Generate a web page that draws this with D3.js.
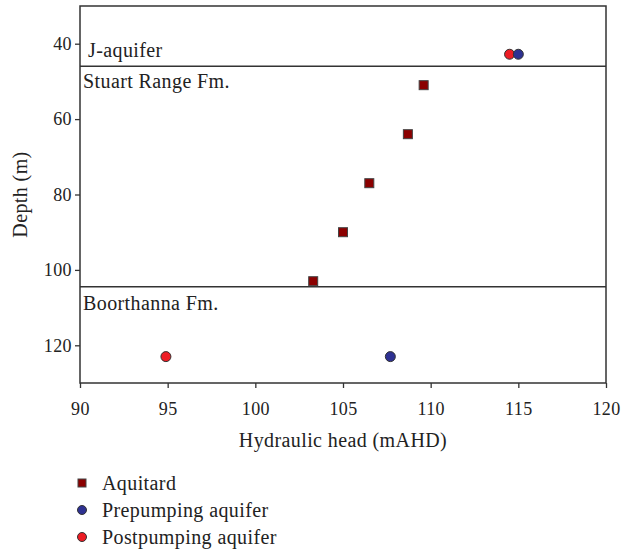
<!DOCTYPE html>
<html>
<head>
<meta charset="utf-8">
<script src="https://cdn.jsdelivr.net/npm/d3@7"></script>
<style>
  body { margin: 0; background: #fff; }
  svg text { font-family: "Liberation Serif", "DejaVu Serif", serif; fill: #222; letter-spacing: 0.4px; }
</style>
</head>
<body>
<div id="chart"></div>
<script>
/* DATA */
const xTicks = [90, 95, 100, 105, 110, 115, 120];
const yTicks = [40, 60, 80, 100, 120];

// aquitard samples: hydraulic head (mAHD) and depth (m)
const aquitardHead = [109.6, 108.7, 106.5, 105.0, 103.3];
const aquitardDepth = [51, 64, 77, 90, 103];

// aquifers: J-aquifer and Boorthanna Fm.
const prepumpHead = [115.0, 107.7];
const prepumpDepth = [42.8, 123];
const postpumpHead = [114.5, 94.9];
const postpumpDepth = [42.8, 123];

// unit boundaries (depth) and labels
const boundaries = [46, 104.5];
const unitNames = ["J-aquifer", "Stuart Range Fm.", "Boorthanna Fm."];
const unitLabelDepth = [43.5, 51.7, 110.6];

const legendNames = ["Aquitard", "Prepumping aquifer", "Postpumping aquifer"];

/* CONSTANTS */
const width = 621, height = 550;
const margin = { top: 6, right: 15, bottom: 167, left: 80 };
const colors = { aquitard: "#8b0000", pre: "#2e3192", post: "#ed1c24" };
const tickFs = 18;
const labelFs = 20;

const svg = d3.select("#chart").append("svg")
  .attr("width", width)
  .attr("height", height);

const xScale = d3.scaleLinear()
  .domain([90, 120])
  .range([margin.left, width - margin.right]);

const yScale = d3.scaleLinear()
  .domain([30, 130])
  .range([margin.top, height - margin.bottom]);

// axes
const xAxis = d3.axisBottom(xScale).tickValues(xTicks).tickSize(5).tickSizeOuter(0);
const yAxis = d3.axisLeft(yScale).tickValues(yTicks).tickSize(5).tickSizeOuter(0);

const gx = svg.append("g")
  .attr("transform", `translate(0,${height - margin.bottom})`)
  .call(xAxis);
const gy = svg.append("g")
  .attr("transform", `translate(${margin.left},0)`)
  .call(yAxis);

[gx, gy].forEach(g => {
  g.select(".domain").remove();
  g.selectAll("line").attr("stroke", "#333").attr("stroke-width", 1.3);
  g.selectAll("text").attr("font-size", tickFs).attr("font-family", null).attr("fill", "#222");
});
gx.selectAll("text").attr("dy", "1.33em");

// frame
svg.append("rect")
  .attr("x", xScale(90))
  .attr("y", yScale(30))
  .attr("width", xScale(120) - xScale(90))
  .attr("height", yScale(130) - yScale(30))
  .attr("fill", "none")
  .attr("stroke", "#333")
  .attr("stroke-width", 1.5);

// boundaries
svg.selectAll("line.bound")
  .data(boundaries)
  .join("line")
  .attr("class", "bound")
  .attr("x1", xScale(90))
  .attr("x2", xScale(120))
  .attr("y1", d => yScale(d))
  .attr("y2", d => yScale(d))
  .attr("stroke", "#333")
  .attr("stroke-width", 1.5);

svg.selectAll("text.unit")
  .data(unitNames)
  .join("text")
  .attr("class", "unit")
  .attr("x", (d, i) => xScale(90) + (i === 0 ? 8 : 3))
  .attr("y", (d, i) => yScale(unitLabelDepth[i]))
  .attr("font-size", labelFs)
  .text(d => d);

// aquitard squares
const sq = 9;
svg.selectAll("rect.aquitard")
  .data(aquitardHead.map((h, i) => ({ h, d: aquitardDepth[i] })))
  .join("rect")
  .attr("class", "aquitard")
  .attr("x", d => xScale(d.h) - sq / 2)
  .attr("y", d => yScale(d.d) - sq / 2)
  .attr("width", sq)
  .attr("height", sq)
  .attr("fill", colors.aquitard)
  .attr("stroke", "#444")
  .attr("stroke-width", 1);

// postpumping then prepumping (pre drawn on top)
svg.selectAll("circle.post")
  .data(postpumpHead.map((h, i) => ({ h, d: postpumpDepth[i] })))
  .join("circle")
  .attr("class", "post")
  .attr("cx", d => xScale(d.h))
  .attr("cy", d => yScale(d.d))
  .attr("r", 5)
  .attr("fill", colors.post)
  .attr("stroke", "#333")
  .attr("stroke-width", 1);

svg.selectAll("circle.pre")
  .data(prepumpHead.map((h, i) => ({ h, d: prepumpDepth[i] })))
  .join("circle")
  .attr("class", "pre")
  .attr("cx", d => xScale(d.h))
  .attr("cy", d => yScale(d.d))
  .attr("r", 5)
  .attr("fill", colors.pre)
  .attr("stroke", "#333")
  .attr("stroke-width", 1);

// axis labels
svg.append("text")
  .attr("x", (xScale(90) + xScale(120)) / 2)
  .attr("y", 447)
  .attr("text-anchor", "middle")
  .attr("font-size", labelFs)
  .text("Hydraulic head (mAHD)");

svg.append("text")
  .attr("transform", `translate(27,${(yScale(30) + yScale(130)) / 2}) rotate(-90)`)
  .attr("text-anchor", "middle")
  .attr("font-size", labelFs)
  .text("Depth (m)");

// legend
const legend = svg.append("g").attr("transform", "translate(82,483)");
const items = legend.selectAll("g")
  .data(legendNames)
  .join("g")
  .attr("transform", (d, i) => `translate(0,${i * 27})`);

items.each(function (d, i) {
  const g = d3.select(this);
  if (i === 0) {
    g.append("rect").attr("x", -4).attr("y", -4).attr("width", 8).attr("height", 8)
      .attr("fill", colors.aquitard).attr("stroke", "#444");
  } else {
    g.append("circle").attr("r", 4.5)
      .attr("fill", i === 1 ? colors.pre : colors.post).attr("stroke", "#333");
  }
  g.append("text")
    .attr("x", 20)
    .attr("dy", "0.35em")
    .attr("font-size", labelFs)
    .text(d);
});
</script>
</body>
</html>
